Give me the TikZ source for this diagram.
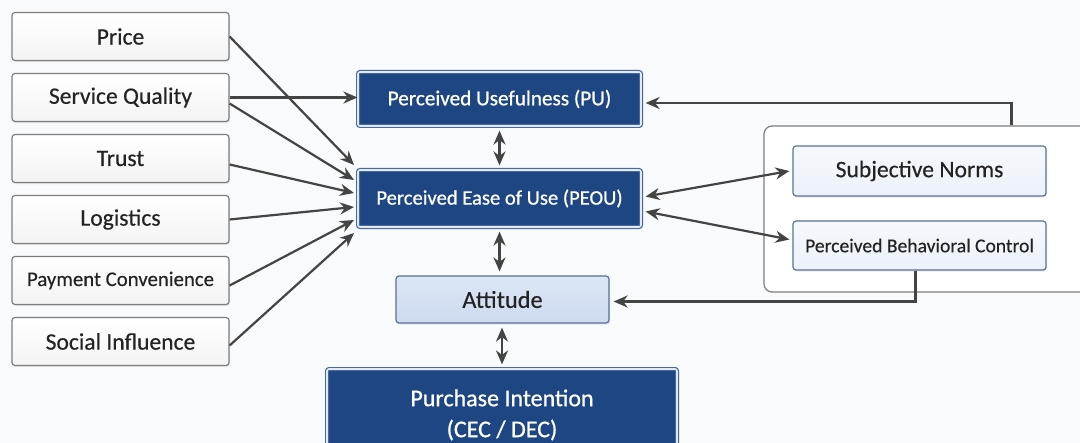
\documentclass[tikz,border=0pt]{standalone}
\usepackage{fontspec}
\setmainfont{Carlito}[FakeBold=0.35]
\newfontfamily\corefont{Carlito}[FakeBold=0.8]
\usepackage{tikz}
\usetikzlibrary{arrows.meta,shadows}

\definecolor{bgcol}{RGB}{249,250,251}
\definecolor{darkblue}{RGB}{30,70,130}
\definecolor{blueedge}{RGB}{70,105,160}
\definecolor{lightblue}{RGB}{205,219,240}
\definecolor{paleblue}{RGB}{236,242,250}
\definecolor{greyedge}{RGB}{125,125,125}
\definecolor{arrowcol}{RGB}{68,68,68}
\definecolor{txtcol}{RGB}{35,35,35}

\tikzset{
  factor/.style={draw=greyedge, line width=0.6pt, top color=white, bottom color=gray!9,
    rounded corners=1.5pt,
    minimum width=108.5pt, minimum height=24pt, inner sep=0pt, text=txtcol,
    drop shadow={opacity=0.15, shadow xshift=0.6pt, shadow yshift=-0.8pt},
    font=\fontsize{11.8}{13}\selectfont},
  core/.style={draw=blueedge, line width=0.6pt, double=white!85!blueedge, double distance=0.8pt,
    fill=darkblue, text=white, inner sep=0pt, rounded corners=1pt,
    drop shadow={opacity=0.2, shadow xshift=0.6pt, shadow yshift=-0.8pt}},
  soft/.style={draw=blueedge!70!gray, line width=0.6pt, top color=lightblue!70, bottom color=lightblue,
    text=txtcol, inner sep=0pt, rounded corners=1.5pt,
    drop shadow={opacity=0.15, shadow xshift=0.6pt, shadow yshift=-0.8pt}},
  norm/.style={draw=blueedge!60!gray, line width=0.6pt, top color=paleblue!50, bottom color=paleblue,
    text=txtcol, minimum width=126.5pt, inner sep=0pt, rounded corners=1.5pt,
    drop shadow={opacity=0.15, shadow xshift=0.6pt, shadow yshift=-0.8pt}},
  link/.style={draw=arrowcol, line width=1.1pt},
}

\begin{document}
\begin{tikzpicture}[x=0.5pt, y=-0.5pt, >={Stealth[length=7pt,width=6pt]}]

\useasboundingbox (0,0) rectangle (1080,443);
\clip (0,0) rectangle (1080,443);
\fill [bgcol] (0,0) rectangle (1080,443);

% external factors
\foreach \t/\n [count=\y] in {Price/price,Service Quality/sq,Trust/trust,Logistics/log,
    {\fontsize{10.4}{12}\selectfont Payment Convenience}/pay,Social Influence/soc}
  \node [factor] (\n) at (120.5,36.5+61*\y-61) {\t};

% TAM core
\node [core, minimum width=141.5pt, minimum height=27pt,
  font=\corefont\fontsize{10.6}{12}\selectfont] (pu) at (499.5,99) {Perceived Usefulness (PU)};
\node [core, minimum width=141.5pt, minimum height=28.5pt,
  font=\corefont\fontsize{10.3}{12}\selectfont] (peou) at (499.5,198.5) {Perceived Ease of Use (PEOU)};
\node [soft, minimum width=106.5pt, minimum height=23.5pt,
  font=\fontsize{12.2}{14}\selectfont] (att) at (502.5,299.5) {Attitude};
\node [core, minimum width=175pt, minimum height=46pt, align=center,
  font=\corefont\fontsize{12}{15.5}\selectfont] (pi) at (502,415) {Purchase Intention\\(CEC / DEC)};

% TPB group
\node [draw=greyedge, line width=0.6pt, fill=white, rounded corners=4pt,
  minimum width=165.5pt, minimum height=83pt] (tpb) at (929.5,209) {};
\node [norm, minimum height=25pt, font=\fontsize{11.8}{13}\selectfont] (sn) at (919.5,171) {Subjective Norms};
\node [norm, minimum height=24.5pt, font=\fontsize{9.8}{12}\selectfont] (pbc) at (919.5,245.5) {Perceived Behavioral Control};

% arrow ends on PEOU
\foreach \y [count=\i] in {165,180,193,207,220,233}
  \coordinate (in-\i) at (354,\y);

\draw [link, ->] (price.east) -- (in-1);
\draw [link, ->] (sq.east) -- (sq.east -| pu.west);
\draw [link, ->] ([yshift=-3pt]sq.east) -- (in-2);
\draw [link, ->] ([yshift=-3pt]trust.east) -- (in-3);
\draw [link, ->] (log.east) -- (in-4);
\draw [link, ->] ([yshift=-2.5pt]pay.east) -- (in-5);
\draw [link, ->] ([yshift=-2pt]soc.east) -- (in-6);

\draw [link, <->] ([yshift=-2pt]pu.south) -- ([yshift=2pt]peou.north);
\draw [link, <->] ([yshift=-2pt]peou.south) -- ([yshift=2pt]peou.south |- att.north);
\draw [link, <->] ([yshift=-2pt]att.south -| pi.north) -- ([yshift=2pt]pi.north);

\draw [link, <->] ([xshift=2pt,yshift=1pt]peou.east) -- ([xshift=-1.5pt]sn.west);
\draw [link, <->] ([xshift=2pt,yshift=-6.5pt]peou.east) -- ([xshift=-1.5pt,yshift=3pt]pbc.west);

\draw [link, ->] ([xshift=41pt]tpb.north) |- ([xshift=2pt,yshift=-2pt]pu.east);
\draw [link, ->] ([xshift=-2pt]pbc.south) |- ([xshift=2pt,yshift=-1pt]att.east);
\end{tikzpicture}
\end{document}
